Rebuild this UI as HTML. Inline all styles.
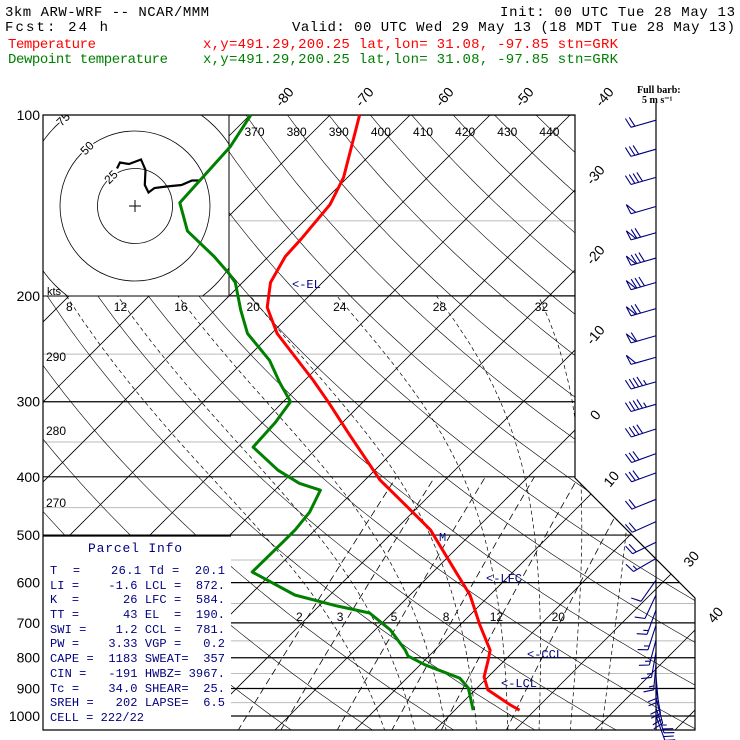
<!DOCTYPE html>
<html><head><meta charset="utf-8">
<style>
html,body{margin:0;padding:0;background:#fff;width:740px;height:740px;overflow:hidden}
svg{display:block}
.mono{font-family:"Liberation Mono",monospace}
.sans{font-family:"Liberation Sans",sans-serif}
</style></head>
<body>
<svg id="chart" width="740" height="740" viewBox="0 0 740 740">
<defs>
<clipPath id="plotclip"><polygon points="43,115 575,115 575,478 695,598 695,730 43,730"/></clipPath>
<clipPath id="hodoclip"><rect x="43" y="115" width="186" height="181"/></clipPath>
</defs>
<g class="mono" font-size="14">
<text x="5" y="16" textLength="204">3km ARW-WRF -- NCAR/MMM</text>
<text x="735" y="16" text-anchor="end" textLength="235">Init: 00 UTC Tue 28 May 13</text>
<text x="5" y="31" textLength="103">Fcst:   24 h</text>
<text x="292" y="31" textLength="443">Valid: 00 UTC Wed 29 May 13 (18 MDT Tue 28 May 13)</text>
<text x="8" y="48" fill="#ff0000" textLength="88">Temperature</text>
<text x="203" y="48" fill="#ff0000" textLength="415">x,y=491.29,200.25   lat,lon= 31.08, -97.85   stn=GRK</text>
<text x="8" y="63" fill="#008000" textLength="160">Dewpoint temperature</text>
<text x="203" y="63" fill="#008000" textLength="415">x,y=491.29,200.25   lat,lon= 31.08, -97.85   stn=GRK</text>
</g>
<g id="grid" clip-path="url(#plotclip)"></g>
<rect x="43" y="115" width="186" height="181" fill="#fff" stroke="#000" stroke-width="1"/>
<g id="hodo" clip-path="url(#hodoclip)"></g>
<rect x="43" y="536" width="188" height="194" fill="#fff"/>
<line x1="43" y1="536" x2="231" y2="536" stroke="#000" stroke-width="1.2"/>
<polygon points="43,115 575,115 575,478 695,598 695,730 43,730" fill="none" stroke="#000" stroke-width="1.2"/>
<g id="labels"></g>
<g id="profiles"></g>
<g id="barbs"></g>
<g class="mono" font-size="12" fill="#00007f">
<text x="88" y="552" font-size="13" textLength="94">Parcel Info</text>
<text x="50" y="574" textLength="175" xml:space="preserve">T  =    26.1 Td =  20.1</text>
<text x="50" y="589" textLength="175" xml:space="preserve">LI =    -1.6 LCL =  872.</text>
<text x="50" y="603" textLength="175" xml:space="preserve">K  =      26 LFC =  584.</text>
<text x="50" y="618" textLength="175" xml:space="preserve">TT =      43 EL  =  190.</text>
<text x="50" y="633" textLength="175" xml:space="preserve">SWI =    1.2 CCL =  781.</text>
<text x="50" y="647" textLength="175" xml:space="preserve">PW =    3.33 VGP =   0.2</text>
<text x="50" y="662" textLength="175" xml:space="preserve">CAPE =  1183 SWEAT=  357</text>
<text x="50" y="677" textLength="175" xml:space="preserve">CIN =   -191 HWBZ= 3967.</text>
<text x="50" y="692" textLength="175" xml:space="preserve">Tc =    34.0 SHEAR=  25.</text>
<text x="50" y="706" textLength="175" xml:space="preserve">SREH =   202 LAPSE=  6.5</text>
<text x="50" y="721" textLength="94" xml:space="preserve">CELL = 222/22</text>
</g>
<g class="mono" font-size="12" fill="#00007f">
<text x="292" y="288">&lt;-EL</text>
<text x="439" y="541">M</text>
<text x="486" y="582">&lt;-LFC</text>
<text x="527" y="658">&lt;-CCL</text>
<text x="501" y="687">&lt;-LCL</text>
</g>
<g font-family="Liberation Serif,serif" font-size="10" font-weight="bold">
<text x="637" y="93">Full barb:</text>
<text x="642" y="103">5 m s⁻¹</text>
</g>
<text x="47" y="295" class="sans" font-size="11">kts</text>
</svg>
<script>
// ---- data ----
var tempP = [100,127,141,161,172,190,209,231,276,300,341,405,437,490,572,629,706,777,807,861,905,959,978];
var tempT = [-66.3,-60.5,-58.8,-58.1,-57.9,-56.5,-53.8,-49.3,-39,-34.4,-27.5,-18.1,-13.1,-5.6,2.5,7.5,12.5,16.9,17.9,19.5,21.6,26.3,28.1];
var dewP = [100,113,140,156,172,183,190,211,231,256,279,300,325,357,390,410,421,458,490,510,576,629,656,674,719,777,795,822,865,898,978];
var dewT = [-79.9,-78.5,-77.8,-73.3,-66.8,-63,-60.9,-56.8,-53,-46.9,-42.8,-39.1,-38.4,-38.1,-32.1,-27.8,-24.3,-22.9,-22.5,-22.5,-22.6,-14.4,-7.8,-2.8,1.9,6.3,7.4,10.6,16.6,18.9,22.3];
var barbP = [102,114,127,142,157,173,190,210,233,253,278,303,333,366,394,436,475,514,547,594,629,666,706,747,782,819,858,898,934,970,1000];
var barbDir = [254,254,254,254,254,254,254,254,254,254,254,254,252,250,250,248,246,244,240,215,205,200,198,195,190,185,175,170,165,162,160];
var barbSpd = [10,15,20,25,35,40,40,35,30,25,22.5,22.5,20,15,15,10,10,10,7.5,5,5,7.5,7.5,7.5,7.5,7.5,10,10,12.5,12.5,10];
var hodoU = [-12,-10,-4,4,7,6.5,9,13,21,31,38,44];
var hodoV = [25,29,28,31,24,14,9,12,13,14,17,17];
var isobarsMajor = [100,200,300,400,500,600,700,800,900,1000];
var isobarsMinor = [150,250,350,450,550,650,750,850,950];
var mixRatios = [2,3,5,8,12,20];
var moistThetaW = [8,12,16,20,24,28,32,36];
var isoLabels = [-80,-70,-60,-50,-40,-30,-20,-10,0,10,30,40];
var thetaTopLabels = [370,380,390,400,410,420,430,440];
var thetaLeftLabels = [290,280,270];

var NS='http://www.w3.org/2000/svg';
var BGOFF=3.3; // background thermodynamic line offset (°C)
function Y(p){return 115+261*Math.log(p/100);}
function X(T,p){return 289+8*T+(716-Y(p));}
function el(tag,attrs,parent){var e=document.createElementNS(NS,tag);for(var k in attrs)e.setAttribute(k,attrs[k]);parent.appendChild(e);return e;}
var grid=document.getElementById('grid');

isobarsMinor.forEach(function(p){
  var l=el('line',{x1:43,x2:700,y1:Y(p),y2:Y(p),stroke:'#bbb','stroke-width':1},grid);
  
  
});
isobarsMajor.forEach(function(p){
  var l=el('line',{x1:43,x2:700,y1:Y(p),y2:Y(p),stroke:'#000','stroke-width':1.2},grid);
  
  
});
for(var T=-130;T<=50;T+=10){
  var l=el('line',{x1:X(T,1060),y1:Y(1060),x2:X(T,95),y2:Y(95),stroke:'#000','stroke-width':0.8},grid);
  
  
}
for(var th=240;th<=460;th+=10){
  var pts=[];
  for(var p=1060;p>=95;p-=10){var t=th*Math.pow(p/1000,0.2857)-273.15+1;pts.push(X(t,p).toFixed(1)+','+Y(p).toFixed(1));}
  var d=el('polyline',{points:pts.join(' '),fill:'none',stroke:'#000','stroke-width':0.6},grid);
  
  
}
function esat(t){return 6.112*Math.exp(17.67*t/(t+243.5));}
function dTdp(Tk,p){var es=esat(Tk-273.15);var rs=0.622*es/(p-es);var Rd=287,cp=1004,L=2.5e6;
  return (Rd*Tk+L*rs)/(p*(cp+L*L*rs*0.622/(Rd*Tk*Tk)));}
moistThetaW.forEach(function(tw){
  var pts=[];var Tk=tw+273.15;var p=1000;
  var Td=Tk;for(var q=1000;q<1060;q+=5){Td+=dTdp(Td,q)*5;}
  pts.push(X(Td-273.15+BGOFF,1060)+','+Y(1060));
  pts.push(X(Tk-273.15+BGOFF,1000)+','+Y(1000));
  while(p>200){Tk-=dTdp(Tk,p)*5;p-=5;if(p%20==0)pts.push(X(Tk-273.15+BGOFF,p).toFixed(1)+','+Y(p).toFixed(1));}
  var d=el('polyline',{points:pts.join(' '),fill:'none',stroke:'#000','stroke-width':0.7,'stroke-dasharray':'4,3'},grid);
  
  
});
mixRatios.forEach(function(w){
  var pts=[];
  for(var p=1060;p>=400;p-=20){var es=w*p/(622+w);var a=Math.log(es/6.112);var t=243.5*a/(17.67-a)+BGOFF;pts.push(X(t,p).toFixed(1)+','+Y(p).toFixed(1));}
  var d=el('polyline',{points:pts.join(' '),fill:'none',stroke:'#000','stroke-width':0.8,'stroke-dasharray':'7,4'},grid);
  
  
  var es=w*700/(622+w);var a=Math.log(es/6.112);var t=243.5*a/(17.67-a)+BGOFF;
  var tx=el('text',{x:X(t,700)-8,y:621,'font-family':'Liberation Sans,sans-serif','font-size':12},document.getElementById('labels'));
  tx.textContent=w;
  
  
});

var lab=document.getElementById('labels');
isobarsMajor.forEach(function(p){
  var t=el('text',{x:40,y:Y(p)+5,'text-anchor':'end','font-family':'Liberation Sans,sans-serif','font-size':14},lab);
  t.textContent=p;
  
  
});
isoLabels.forEach(function(T){
  var x,y;
  var xt=X(T,100);
  if(xt<=590){x=xt+38;y=100;}
  else{
    var yy=115;
    for(yy=115;yy<730;yy++){var p=100*Math.exp((yy-115)/261);var xb=yy<=478?575:Math.min(695,575+(yy-478));if(X(T,p)<=xb)break;}
    var p2=100*Math.exp((yy-115)/261);x=X(T,p2)+24;y=yy-12;
  }
  var t=el('text',{x:x,y:y,'text-anchor':'middle','font-family':'Liberation Sans,sans-serif','font-size':14,transform:'rotate(-50 '+x+' '+y+')'},lab);
  t.textContent=T;
  
  
});
thetaTopLabels.forEach(function(th){
  var p=106;var t=th*Math.pow(p/1000,0.2857)-273.15;
  var tx=el('text',{x:X(t,p)+6,y:136,'font-family':'Liberation Sans,sans-serif','font-size':12,'text-anchor':'middle'},lab);
  tx.textContent=th;
  
  
});
var leftY=[361,435,507];
thetaLeftLabels.forEach(function(th,i){
  var tx=el('text',{x:46,y:leftY[i],'font-family':'Liberation Sans,sans-serif','font-size':12},lab);
  tx.textContent=th;
  
  
});
moistThetaW.slice(0,7).forEach(function(tw){
  var Tk=tw+273.15,p=1000;while(p>200){Tk-=dTdp(Tk,p)*5;p-=5;}
  var tx=el('text',{x:X(Tk-273.15+BGOFF,200)+3,y:311,'font-family':'Liberation Sans,sans-serif','font-size':12,'text-anchor':'middle'},lab);
  tx.textContent=tw;
  
  
});

var hodo=document.getElementById('hodo');var cx=135,cy=206,k=1.5;
[25,50,75].forEach(function(r){
  var c=el('circle',{cx:cx,cy:cy,r:r*k,fill:'none',stroke:'#000','stroke-width':0.8},hodo);
  
  
  var a=-Math.PI*0.72;var lx=cx+r*k*Math.cos(a),ly=cy+r*k*Math.sin(a);
  var t=el('text',{x:lx,y:ly+4,'text-anchor':'middle','font-family':'Liberation Sans,sans-serif','font-size':12,fill:'#000',stroke:'#fff','stroke-width':3,'paint-order':'stroke',transform:'rotate(-45 '+lx+' '+ly+')'},hodo);
  t.textContent=r;
  
  
});
var plus=el('path',{d:'M'+(cx-6)+' '+cy+'h12M'+cx+' '+(cy-6)+'v12',stroke:'#000','stroke-width':1},hodo);


var hp=hodoU.map(function(u,i){return (cx+u*k).toFixed(1)+','+(cy-hodoV[i]*k).toFixed(1);});
var hl=el('polyline',{points:hp.join(' '),fill:'none',stroke:'#000','stroke-width':2.2},hodo);



var prof=document.getElementById('profiles');
var tp=tempP.map(function(p,i){return X(tempT[i],p).toFixed(1)+','+Y(p).toFixed(1);});
var tl=el('polyline',{points:tp.join(' '),fill:'none',stroke:'#ff0000','stroke-width':3,'stroke-linejoin':'round'},prof);


var dp=dewP.map(function(p,i){return X(dewT[i],p).toFixed(1)+','+Y(p).toFixed(1);});
var dl=el('polyline',{points:dp.join(' '),fill:'none',stroke:'#008000','stroke-width':3,'stroke-linejoin':'round'},prof);



var bg=document.getElementById('barbs');
var st=el('line',{x1:656,y1:103,x2:656,y2:730,stroke:'#000','stroke-width':1.2},bg);


barbP.forEach(function(p,i){
  var y0=Y(p),x0=656;var a=barbDir[i]*Math.PI/180;
  var dx=Math.sin(a),dy=-Math.cos(a);
  var L=26;var ex=x0+dx*L,ey=y0+dy*L;
  var px=dy,py=-dx;
  if(py>0){px=-px;py=-py;}
  if(Math.abs(py)<0.3&&px>0){px=-px;py=-py;}
  var d='M'+x0+' '+y0+'L'+ex.toFixed(1)+' '+ey.toFixed(1);
  var s=barbSpd[i];var pos=0;
  while(s>=25){var bx=ex-dx*pos,by=ey-dy*pos;d+='M'+bx.toFixed(1)+' '+by.toFixed(1)+'l'+(px*10+dx*2).toFixed(1)+' '+(py*10+dy*2).toFixed(1)+'L'+(bx-dx*5).toFixed(1)+' '+(by-dy*5).toFixed(1);pos+=6;s-=25;}
  while(s>=5){var bx=ex-dx*pos,by=ey-dy*pos;d+='M'+bx.toFixed(1)+' '+by.toFixed(1)+'l'+(px*10+dx*3).toFixed(1)+' '+(py*10+dy*3).toFixed(1);pos+=4;s-=5;}
  if(s>=2.5){var bx=ex-dx*pos,by=ey-dy*pos;d+='M'+bx.toFixed(1)+' '+by.toFixed(1)+'l'+(px*5+dx*1.5).toFixed(1)+' '+(py*5+dy*1.5).toFixed(1);}
  var b=el('path',{d:d,fill:'none',stroke:'#00007f','stroke-width':1.1},bg);
  
  
});
</script>
</body></html>
